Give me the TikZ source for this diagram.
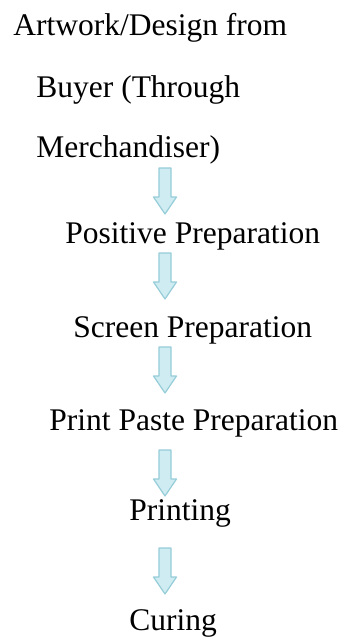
\documentclass[tikz,border=0pt]{standalone}
\usepackage{fontspec}
\setmainfont{Liberation Serif}
\usepackage{tikz}
\usetikzlibrary{positioning}
\definecolor{arrowfill}{RGB}{206,236,242}
\definecolor{arrowline}{RGB}{150,205,216}
\tikzset{
  txt/.style={anchor=base west, inner sep=0pt, font=\fontsize{15.75}{18}\selectfont},
  downarrow/.pic={
    \draw[arrowline, fill=arrowfill, line width=0.6pt, line join=round]
      (-6,0) -- (6,0) -- (6,29) -- (11.5,29) -- (0,46) -- (-11.5,29) -- (-6,29) -- cycle;
  }
}

\begin{document}
\begin{tikzpicture}[x=0.5pt, y=-0.5pt]
  \useasboundingbox (0,0) rectangle (345,638);
  \node[txt] (art) at (13,35){Artwork/Design from};
  \node[txt] (buy) at (36,97){Buyer (Through};
  \node[txt] (mer) at (36,157){Merchandiser)};
  \pic (a1) at (165,168){downarrow};
  \node[txt] (pos) at (65,243){Positive Preparation};
  \pic (a2) at (165,253){downarrow};
  \node[txt] (scr) at (73,337){Screen Preparation};
  \pic (a3) at (165,347){downarrow};
  \node[txt] (pas) at (49,430){Print Paste Preparation};
  \pic (a4) at (165,450){downarrow};
  \node[txt] (pri) at (129,520){Printing};
  \pic (a5) at (165,548){downarrow};
  \node[txt] (cur) at (129,630){Curing};
\end{tikzpicture}
\end{document}
